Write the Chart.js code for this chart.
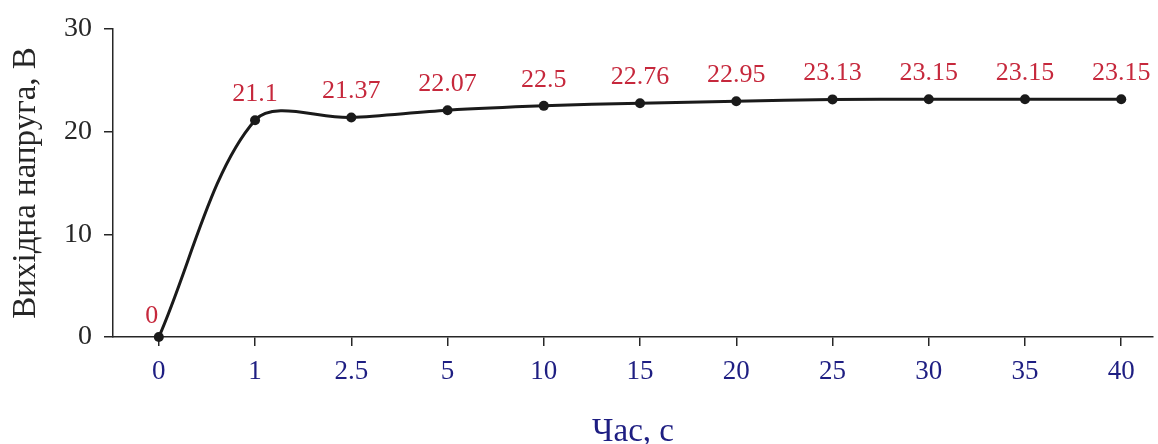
<!DOCTYPE html>
<html>
<head>
<meta charset="utf-8">
<script src="https://cdn.jsdelivr.net/npm/chart.js@4/dist/chart.umd.min.js"></script>
<style>
  html, body { margin: 0; padding: 0; background: #fff; }
  #wrap { width: 1158px; height: 444px; }
</style>
</head>
<body>
<div id="wrap"><canvas id="c" width="1158" height="444"></canvas></div>
<script>
// Time points (s) shown on the horizontal axis
const timeLabels = ['0', '1', '2.5', '5', '10', '15', '20', '25', '30', '35', '40'];
// Output voltage (V) at each time point
const voltage = [0, 21.1, 21.37, 22.07, 22.5, 22.76, 22.95, 23.13, 23.15, 23.15, 23.15];
// Vertical axis ticks
const voltTicks = [0, 10, 20, 30];

const SERIF = '"Liberation Serif", "DejaVu Serif", serif';
const NAVY = '#1e1e82';
const RED = '#c6283c';
const INK = '#262626';

// Value labels above each point
const valueLabels = {
  id: 'valueLabels',
  afterDatasetsDraw(chart) {
    const ctx = chart.ctx;
    const meta = chart.getDatasetMeta(0);
    ctx.save();
    ctx.font = '26px ' + SERIF;
    ctx.fillStyle = RED;
    ctx.textAlign = 'center';
    ctx.textBaseline = 'middle';
    meta.data.forEach((pt, i) => {
      const v = voltage[i];
      const dx = v === 0 ? -7 : 0;
      const dy = v === 0 ? -21 : -26;
      ctx.fillText(String(v), pt.x + dx, pt.y + dy);
    });
    ctx.restore();
  }
};

new Chart(document.getElementById('c'), {
  type: 'line',
  data: {
    datasets: [{
      data: voltage.map((v, i) => ({ x: i, y: v })),
      borderColor: '#1a1a1a',
      borderWidth: 3,
      backgroundColor: '#1a1a1a',
      pointRadius: 5,
      pointBackgroundColor: '#1a1a1a',
      pointBorderWidth: 0,
      tension: 0.32,
      clip: false,
      fill: false
    }]
  },
  options: {
    responsive: false,
    animation: false,
    layout: { padding: { top: 23, right: 0, left: 0, bottom: 0 } },
    plugins: { legend: { display: false }, tooltip: { enabled: false } },
    scales: {
      x: {
        type: 'linear',
        min: -0.476,
        max: 10.33,
        afterBuildTicks(scale) {
          scale.ticks = timeLabels.map((_, i) => ({ value: i }));
        },
        afterFit(scale) { scale.height = 107; },
        border: { display: true, color: INK, width: 1.5 },
        grid: { display: true, drawOnChartArea: false, drawTicks: true, tickLength: 9, color: INK, lineWidth: 1.5 },
        ticks: {
          autoSkip: false,
          maxRotation: 0,
          padding: 10,
          color: NAVY,
          font: { family: SERIF, size: 27 },
          callback: (v) => timeLabels[v]
        },
        title: {
          display: true,
          text: 'Час, с',
          color: NAVY,
          font: { family: SERIF, size: 33, lineHeight: 0.7 },
          padding: { top: 0, bottom: 0 }
        }
      },
      y: {
        min: 0,
        max: 30,
        afterBuildTicks(scale) {
          scale.ticks = voltTicks.map(v => ({ value: v }));
        },
        afterFit(scale) { scale.width = 113; },
        border: { display: true, color: INK, width: 1.5 },
        grid: { display: true, drawOnChartArea: false, drawTicks: true, tickLength: 9, color: INK, lineWidth: 1.5 },
        ticks: {
          padding: 12,
          color: INK,
          font: { family: SERIF, size: 28 }
        },
        title: {
          display: true,
          text: 'Вихідна напруга, В',
          color: INK,
          font: { family: SERIF, size: 33, lineHeight: 1 },
          padding: { top: 10, bottom: 0 }
        }
      }
    }
  },
  plugins: [valueLabels]
});
</script>
</body>
</html>
